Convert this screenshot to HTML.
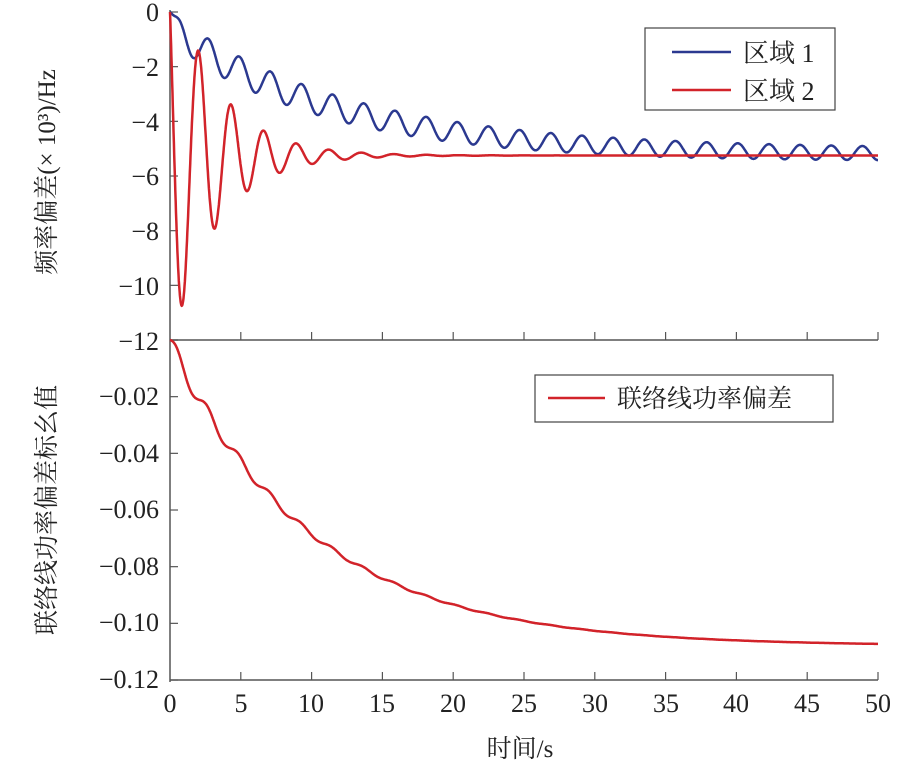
<!DOCTYPE html>
<html><head><meta charset="utf-8"><style>
body{margin:0;background:#fff}
svg text{font-family:"Liberation Serif","Noto Serif CJK SC",serif;fill:#222}
</style></head><body>
<svg id="s" width="922" height="768" viewBox="0 0 922 768" xmlns="http://www.w3.org/2000/svg">
<g stroke="#555" stroke-width="1.5" fill="none">
<line x1="170" y1="10" x2="170" y2="682"/>
<line x1="170" y1="340" x2="878" y2="340"/>
<line x1="170" y1="680" x2="878" y2="680"/>
</g>
<g id="ticks" stroke="#555" stroke-width="1.2"></g>
<g font-size="26" text-anchor="end">
<text x="159" y="21">0</text><text x="159" y="76">−2</text><text x="159" y="131">−4</text>
<text x="159" y="185">−6</text><text x="159" y="240">−8</text><text x="159" y="295">−10</text>
<text x="159" y="350">−12</text>
<text x="159" y="405">−0.02</text><text x="159" y="462">−0.04</text><text x="159" y="518">−0.06</text>
<text x="159" y="575">−0.08</text><text x="159" y="631">−0.10</text><text x="159" y="688">−0.12</text>
</g>
<g font-size="26" text-anchor="middle">
<text x="170" y="712">0</text><text x="241" y="712">5</text><text x="311" y="712">10</text>
<text x="382" y="712">15</text><text x="453" y="712">20</text><text x="524" y="712">25</text>
<text x="595" y="712">30</text><text x="666" y="712">35</text><text x="736" y="712">40</text>
<text x="807" y="712">45</text><text x="878" y="712">50</text>
</g>
<g font-size="25" text-anchor="middle">
<text x="520" y="757">时间/s</text>
<text transform="translate(55,172) rotate(-90)">频率偏差(× 10³)/Hz</text>
<text transform="translate(55,510) rotate(-90)">联络线功率偏差标幺值</text>
</g>
<path id="b" fill="none" stroke="#2b3990" stroke-width="2.5"/>
<path id="r" fill="none" stroke="#d2232a" stroke-width="2.5"/>
<path id="g" fill="none" stroke="#d2232a" stroke-width="2.5"/>
<rect x="645" y="28" width="190" height="82" fill="#fff" stroke="#444" stroke-width="1.2"/>
<line x1="672" y1="52" x2="731" y2="52" stroke="#2b3990" stroke-width="2.5"/>
<line x1="672" y1="90" x2="731" y2="90" stroke="#d2232a" stroke-width="2.5"/>
<text x="743" y="62" font-size="26">区域 1</text>
<text x="743" y="100" font-size="26">区域 2</text>
<rect x="535" y="375" width="298" height="47" fill="#fff" stroke="#444" stroke-width="1.2"/>
<line x1="548" y1="398" x2="605" y2="398" stroke="#d2232a" stroke-width="2.5"/>
<text x="617" y="407" font-size="25">联络线功率偏差</text>
</svg>
<script>
var X=t=>170+t*14.16,Y1=v=>12-v*27.33,Y2=v=>340-v*2833;
var w=2.856,w2=2.73,b="",r="",g="";
var ph=-2.86,k=0.9,u0=k*Math.sin(ph)/w;
for(var i=0;i<=2000;i++){var t=i*0.025;
var a=0.2+0.4*Math.exp(-t/25);
var s=1-Math.exp(-t/0.5);s=s*s;
var f1=-5.0*(1-Math.exp(-t/12.4))-a*(1-Math.cos(w*(t-0.5)))*s;
var e=Math.exp(-t/3.2);
var f2=-5.25+e*(5.25*Math.cos(w2*t)-4.9*Math.sin(w2*t));
var kk=k*Math.exp(-t/25);
var u=t+kk*Math.sin(w*t+ph)/w-u0*Math.exp(-t/25);
var f3=-0.108*(1-Math.exp(-u/10));
var c=i?"L":"M";
b+=c+X(t).toFixed(1)+","+Y1(f1).toFixed(1);
r+=c+X(t).toFixed(1)+","+Y1(f2).toFixed(1);
g+=c+X(t).toFixed(1)+","+Y2(f3).toFixed(1);}
document.getElementById("b").setAttribute("d",b);
document.getElementById("r").setAttribute("d",r);
document.getElementById("g").setAttribute("d",g);
var tk="";
for(var j=1;j<=10;j++){var x=170+j*70.8;tk+='<line x1="'+x+'" y1="340" x2="'+x+'" y2="332"/><line x1="'+x+'" y1="680" x2="'+x+'" y2="672"/>';}
for(var j=0;j<=6;j++){var y=12+j*54.67;tk+='<line x1="170" y1="'+y+'" x2="178" y2="'+y+'"/>';var y2=340+j*56.67;tk+='<line x1="170" y1="'+y2+'" x2="178" y2="'+y2+'"/>';}
document.getElementById("ticks").innerHTML=tk;
</script>
</body></html>
